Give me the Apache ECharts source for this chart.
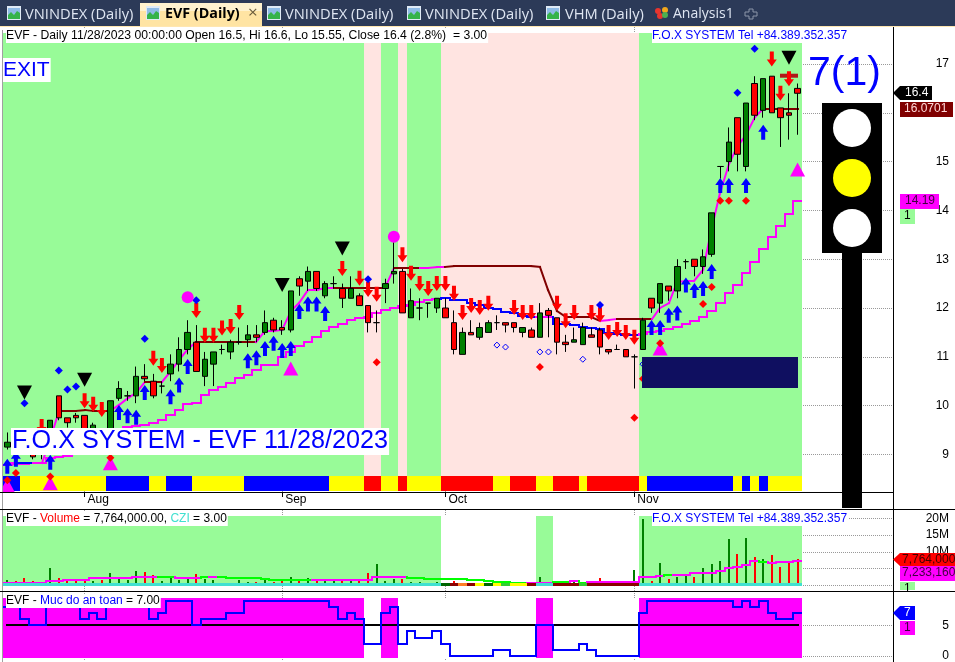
<!DOCTYPE html>
<html>
<head>
<meta charset="utf-8">
<title>EVF (Daily)</title>
<style>
html, body { margin: 0; padding: 0; background: #fff; }
#main { width: 955px; height: 662px; }
</style>
<script src="https://cdn.jsdelivr.net/npm/echarts@6/dist/echarts.min.js"></script>
</head>
<body>
<div id="main"></div>
<script>
// OHLC, one entry per trading day
const opens = [9.15,9.3,9.35,9.2,9,9.2,10.2,9.75,9.8,9.8,9.35,9.45,9.3,10.15,10.2,10.2,10.6,10.5,10.4,10.65,10.85,11.15,11.3,10.6,10.85,11.15,11.1,11.3,11.35,11.45,11.5,11.75,11.6,11.55,12.6,12.55,12.75,12.25,12.5,12.4,12.2,12.25,12.05,11.7,12.4,12.7,12.75,11.8,12,12.1,12,12,11.7,11.05,11.5,11.4,11.5,11.7,11.7,11.7,11.5,11.55,11.4,11.95,11.8,11.3,11.3,11.25,11.45,11.55,11.15,11.15,11.15,11,11.15,12.2,12.1,12.45,12.35,12.95,13,12.85,13.1,14.9,15,15.9,14.9,16.6,16.05,16.75,16.1,16,16.5];
const closes = [9.25,9.2,9.2,8.95,9.2,9.7,9.75,9.65,9.75,9.35,9.6,9.3,10.1,10.35,10.2,10.6,10.55,10.2,10.4,10.85,11.15,11.5,10.7,10.95,11.1,11.15,11.3,11.3,11.45,11.4,11.7,11.55,11.55,12.35,12.45,12.75,12.4,12.5,12.5,12.2,12.4,12.05,11.7,11.7,12.5,12.75,11.9,12.15,12,12.1,12.2,11.8,11.15,11.5,11.45,11.6,11.7,11.7,11.65,11.6,11.6,11.4,11.9,11.85,11.3,11.25,11.35,11.6,11.4,11.2,11.1,11.15,11,11,11.75,12,12.5,12.35,12.85,12.95,12.85,13.05,13.95,14.9,15.4,15.15,16.2,15.95,16.7,16,15.9,15.95,16.4];
const lows = [9.1,9.1,9.05,8.9,8.9,9.15,9.7,9.55,9.65,9.3,9.3,9.2,9.25,10.1,10.1,10.05,10.5,10.15,10.25,10.5,10.7,11.05,10.7,10.4,10.4,11.05,10.95,11.25,11.2,11.3,11.45,11.5,11.45,11.5,12.25,12.35,12.35,12.2,12.4,12,12.2,12.05,11.5,11.5,12.1,12.5,11.9,11.8,11.75,11.8,11.9,11.8,11.05,11.05,11.45,11.35,11.5,11.55,11.5,11.5,11.4,11.4,11.4,11.4,11.05,11.1,11.3,11.25,11.4,11.05,11.05,11.15,11,10.35,11.15,11.9,11.9,12.15,12.2,12.8,12.65,12.7,13.05,14.65,14.8,14.8,14.8,15.85,15.9,16,15.3,15.45,15.55];
const highs = [9.45,9.4,9.5,9.3,9.35,9.7,10.2,9.75,9.85,9.8,9.65,9.5,10.1,10.5,10.3,10.8,10.85,10.65,10.5,11.05,11.4,11.75,11.65,11.1,11.1,11.25,11.35,11.6,11.65,11.65,11.95,11.8,11.75,12.35,12.65,12.85,12.75,12.55,12.65,12.5,12.65,12.3,12.05,11.95,12.6,13.35,12.8,12.4,12.2,12.1,12.2,12.2,11.95,11.6,11.75,11.7,11.75,11.85,11.7,11.7,11.6,11.6,12.1,12,11.8,11.45,11.6,11.7,11.6,11.6,11.15,11.25,11.15,11.05,11.8,12.2,12.5,12.45,13,13,13,13.2,13.95,14.9,15.7,15.9,16.2,16.75,16.7,16.75,16.1,16.4,16.6];

// trailing lines on the price pane
const upperLine = [8.82,8.82,8.82,8.82,8.82,9.3,9.89,9.89,9.89,9.9,9.89,9.89,9.89,10.01,10.15,10.25,10.49,10.49,10.49,10.7,10.94,11.17,11.31,11.31,11.31,11.31,11.31,11.31,11.31,11.31,11.52,11.53,11.55,11.93,12.1,12.37,12.37,12.4,12.4,12.4,12.4,12.4,12.4,12.4,12.4,12.83,12.83,12.83,12.83,12.83,12.84,12.85,12.86,12.86,12.86,12.86,12.86,12.86,12.86,12.86,12.86,12.86,12.85,12.37,11.93,11.82,11.82,11.82,11.82,11.74,11.75,11.77,11.77,11.77,11.78,11.78,11.99,12.1,12.54,12.55,12.56,12.77,13.67,14.35,14.96,15.3,15.54,15.92,16.07,16.07,16.07,16.07,16.07];
const upperColors = 'mbbmmmrrrrrrmmmmrrmmmmrrrrrrrmmmmmmmmmrrrrrrmrrrmmmrrrrrrrrrrrrrrrrrrmmrrrrmmmmmmmmmmmmmrrrrr';
const lowerLine = [8.78,8.8,8.8,8.82,8.83,8.92,8.94,8.97,9.09,9.16,9.26,9.36,9.43,9.5,9.56,9.58,9.6,9.65,9.71,9.81,9.91,10.03,10.05,10.22,10.32,10.39,10.46,10.56,10.63,10.73,10.83,10.83,11,11.1,11.22,11.31,11.4,11.52,11.62,11.68,11.75,11.79,11.82,11.89,11.96,12.01,12.04,12.06,12.12,12.16,12.18,12.21,12.16,12.16,12.1,12.06,12.01,11.97,11.92,11.89,11.84,11.82,11.82,11.82,11.68,11.68,11.65,11.62,11.6,11.56,11.49,11.47,11.45,11.45,11.46,11.5,11.53,11.56,11.62,11.67,11.74,11.82,11.93,12.1,12.3,12.47,12.72,12.95,13.21,13.46,13.68,13.93,14.19];
const lowerColors = 'mmmmmmmmmmmmmmmmmmmmmmmmmmmmmmmmmmmmmmmmmmmmmmmmmmmbbbbbbbbbbbmmbbbbbbbbbbmmmmmmmmmmmmmmmmmmm';

// per day background and ribbon states
const priceBand = 'gggggggggggggggggggggggggggggggggggggggggg' + 'pp' + 'gg' + 'p' + 'gggg' + 'ppppppppppppppppppppppp' + 'ggggggggggggggggggg';
const ribbon = 'bb' + 'yyyyyyyyyy' + 'bbbbb' + 'yy' + 'bbb' + 'yyyyyy' + 'bbbbbbbbbb' + 'yyyy' + 'rr' + 'yy' + 'r' + 'yyyy' + 'rrrrrr' + 'yy' + 'rrr' + 'yy' + 'rrr' + 'y' + 'rrrrrr' + 'y' + 'bbbbbbbbbb' + 'ybyb' + 'yyyy';
const volumeBand = 'ggggggggggggggggggggggggggggggggggggggggggggggggggg' + 'wwwwwwwwwww' + 'gg' + 'wwwwwwwwww' + 'ggggggggggggggggggg';
const safetyBand = 'mmmmmmmmmmmmmmmmmmmmmmmmmmmmmmmmmmmmmmmmmm' + 'ww' + 'mm' + 'wwwwwwwwwwwwwwww' + 'mm' + 'wwwwwwwwww' + 'mmmmmmmmmmmmmmmmmmm';
const cziStrip = 'ttttttttttttttttttttttttttttttttttttttttttttttttttt' + 'dkokydylyyk' + 'tt' + 'kkk' + 'l' + 'kkkkkk' + 'ttttttttttttttttttt';

// signals as [day, price]
const redArrows = [[4,9.57],[9,10.1],[10,10.03],[11,9.92],[17,10.97],[18,10.82],[22,11.95],[23,11.44],[24,11.44],[25,11.59],[26,11.62],[27,11.91],[39,12.81],[41,12.61],[42,12.38],[43,12.28],[46,13.09],[47,12.71],[48,12.5],[49,12.4],[50,12.5],[51,12.5],[52,12.3],[53,11.91],[54,12.05],[55,12.01],[56,12.1],[59,12.01],[60,11.91],[61,11.91],[64,12.1],[65,11.74],[66,11.91],[68,11.91],[69,11.86],[70,11.5],[71,11.56],[72,11.5],[73,11.4],[89,17.1],[90,16.4],[91,16.7]];
const blueArrows = [[0,8.76],[1,8.9],[5,8.84],[13,9.86],[14,9.79],[15,9.76],[16,10.27],[19,10.18],[20,10.42],[21,10.8],[28,10.92],[29,10.98],[30,11.17],[31,11.28],[32,11.13],[33,11.17],[34,11.93],[35,12.08],[36,12.08],[37,11.89],[75,11.6],[76,11.6],[77,11.85],[78,11.9],[79,12.47],[80,12.36],[81,12.4],[82,12.75],[83,14.51],[84,14.51],[86,14.51],[88,15.6]];
const blueDots = [[2,10.05],[6,10.72],[7,10.33],[8,10.39],[16,11.37],[22,12.16],[42,12.59],[69,12.06],[85,16.41],[87,17.31]];
const redDots = [[0,8.47],[1,8.62],[5,8.55],[12,8.93],[43,10.89],[62,10.79],[73,9.75],[74,10.55],[76,11.28],[81,12.08],[82,12.43],[83,14.2],[84,14.2],[86,14.2]];
const hollowDots = [[57,11.24],[58,11.2],[62,11.1],[63,11.1],[67,10.95],[74,10.85]];
const blackTriangles = [[2,10.27],[9,10.53],[32,12.47],[39,13.22],[91,17.13]];
const pinkTriangles = [[0,8.37],[5,8.41],[12,8.82],[33,10.76],[76,11.17],[92,14.84]];
const pinkCircles = [[21,12.22],[45,13.46]];
const resistanceMarks = [[91,16.76]];
const navyZone = [[73.89,92.05,11,10.36]];

// volume pane, millions of shares
const volumes = [1.6,1.3,2.1,1.3,0.9,5.1,2.1,1.8,1.8,1.4,1.3,1.6,3.6,2.6,1.6,4.3,3.9,3.1,1.3,2.6,1.6,2.1,3.3,1.9,1.6,0.6,0.8,1.6,0.9,0.9,1.9,0.9,1.6,2.5,1.6,2.1,1.5,1.9,1.9,1.9,1.5,1.5,3.6,6.3,1.3,1.9,1.9,0.9,0.9,0.6,0.9,0.3,1.3,0.5,0.6,0.3,0.4,0.8,0.8,0.9,0.6,0.5,2.5,0.9,1.3,0.7,0.9,0.6,0.9,2.2,0.9,1,1.3,4.6,19.8,1.2,6.6,1.9,2.5,3.1,2.5,5.1,6.4,7.3,13.8,9.4,14.1,8.5,7.9,9.1,5.5,6.9,7.764];
const volumeAvg = [0.8,0.8,0.8,0.8,0.8,1.4,1.4,1.7,1.7,1.7,2.1,2.1,2.1,2.1,2.1,2.6,2.6,2.6,2.6,2.6,2.3,2.3,2.3,2.6,2.6,2.6,2.3,2.3,2.3,2.3,2,1.7,1.7,1.7,1.7,1.7,1.7,1.7,1.7,1.7,1.7,1.7,1.7,2.4,2.4,2.4,2.4,2.3,2.3,1.9,1.9,1.9,1.9,1.9,1.6,1.6,1.3,1.1,1.1,0.8,0.8,0.8,0.8,0.8,1.1,1.1,1.2,0.8,1.1,1.1,1.1,1.1,1.1,1.1,2.4,2.6,2.9,3.1,3.1,3.1,3.6,3.6,3.8,4.4,5.1,5.6,6.1,7.4,6.9,6.8,7,7.1,7.233];
const volumeAvgColors = 'mmmmmmmmmmmmmmmmmm' + 'gg' + 'mmm' + 'g' + 'm' + 'ggggggggggg' + 'mmmmmmmmmmm' + 'gggggggggggggg' + 'mmm' + 'gg' + 'm' + 'g' + 'mmmmmmmmm' + 'g' + 'mmmmmmmmmm' + 'g' + 'mmmm';

// safety level pane
const safetyLevel = [8,8,6,5,5,8,8,8,8,6,7,6,8,8,8,8,8,6,7,9,9,9,5,6,6,6,7,7,9,9,9,9,9,9,9,9,9,9,8,6,7,6,2,2,7,8,2,4,3,3,4,2,0,0,0,0,0,1,1,0,0,0,5,5,1,1,1,2,1,0,0,0,0,0,7,9,9,9,9,9,9,9,9,9,9,8,9,8,9,7,6,6,7];
const safetyThreshold = [5, 5];
const safetyThresholdDays = [0, 92];

const monthTicks = [9, 32, 51, 73];
const monthNames = ['Aug', 'Sep', 'Oct', 'Nov'];
const priceTicks = [9, 10, 11, 12, 13, 14, 15, 16, 17];
const volumeTicks = [0, 5, 10, 15, 20];
const safetyTicks = [0, 5];

const FONT = '"Liberation Sans", Arial, sans-serif';
const UI_FONT = '"Open Sans", "Noto Sans", sans-serif';
const GREEN = '#008000', RED = '#ff0000', BLUE = '#0000ff', MAGENTA = '#ff00ff', MAROON = '#800000';
const BAND_GREEN = '#98fb98', BAND_PINK = '#ffe4e1', LIME = '#00ff00', YELLOW = '#ffff00', TURQUOISE = '#40e0d0';

const ARROW_UP = 'path://M5 0L10 7L7 7L7 15L3 15L3 7L0 7Z';
const ARROW_DOWN = 'path://M3 0L7 0L7 8L10 8L5 15L0 8L3 8Z';
const X_MIN = -0.5, X_MAX = 103.11;

// one rectangle per day between two values of the pane, colour from a state string
function bandSeries(codes, palette, yTop, yBottom, pane, z) {
    let data = codes.split('').map(function(code, i) {
        return [i, yTop, yBottom, code.charCodeAt(0)];
    });
    return {
        type: 'custom',
        xAxisIndex: pane,
        yAxisIndex: pane,
        z: z,
        silent: true,
        encode: { x: 0, y: [1, 2] },
        data: data,
        renderItem: function(params, api) {
            let i = api.value(0);
            let a = api.coord([i - 0.5, api.value(1)]);
            let b = api.coord([i + 0.5, api.value(2)]);
            let x = Math.round(a[0]), y = Math.round(a[1]);
            return {
                type: 'rect',
                shape: { x: x, y: y, width: Math.round(b[0]) - x, height: Math.round(b[1]) - y },
                style: { fill: palette[String.fromCharCode(api.value(3))] }
            };
        }
    };
}

// flat 2px level across each day's width with a riser from the day before
function stairSeries(values, codes, palette, pane, z) {
    let data = values.map(function(v, i) {
        return [i, v, i > 0 ? values[i - 1] : v, codes.charCodeAt(i)];
    });
    return {
        type: 'custom',
        xAxisIndex: pane,
        yAxisIndex: pane,
        z: z,
        silent: true,
        encode: { x: 0, y: 1 },
        data: data,
        renderItem: function(params, api) {
            let i = api.value(0);
            let a = api.coord([i - 0.5, api.value(1)]);
            let b = api.coord([i + 0.5, api.value(1)]);
            let p = api.coord([i - 0.5, api.value(2)]);
            let x0 = Math.round(a[0]), x1 = Math.round(b[0]);
            let y = Math.round(a[1]), yp = Math.round(p[1]);
            let style = { fill: palette[String.fromCharCode(api.value(3))] };
            return {
                type: 'group',
                children: [
                    { type: 'rect', shape: { x: x0, y: y - 1, width: x1 - x0, height: 2 }, style: style },
                    { type: 'rect', shape: { x: x0 - 1, y: Math.min(y, yp) - 1, width: 2, height: Math.abs(y - yp) + 2 }, style: style }
                ]
            };
        }
    };
}

// 2px segments between consecutive points, ends snapped to whole pixels
function segmentSeries(days, values, codes, palette, pane, z) {
    let data = [];
    for (let k = 0; k + 1 < values.length; k++) {
        data.push([days[k], values[k], days[k + 1], values[k + 1], codes.charCodeAt(k)]);
    }
    return {
        type: 'custom',
        xAxisIndex: pane,
        yAxisIndex: pane,
        z: z,
        silent: true,
        encode: { x: [0, 2], y: [1, 3] },
        data: data,
        renderItem: function(params, api) {
            let a = api.coord([api.value(0), api.value(1)]);
            let b = api.coord([api.value(2), api.value(3)]);
            return {
                type: 'line',
                shape: { x1: Math.round(a[0]), y1: Math.round(a[1]), x2: Math.round(b[0]), y2: Math.round(b[1]) },
                style: { stroke: palette[String.fromCharCode(api.value(4))], lineWidth: 2, lineCap: 'square' }
            };
        }
    };
}

function markerSeries(data, symbol, size, color, z, extra) {
    return Object.assign({
        type: 'scatter',
        xAxisIndex: 0,
        yAxisIndex: 0,
        data: data,
        symbol: symbol,
        symbolSize: size,
        silent: true,
        z: z,
        itemStyle: { color: color, opacity: 1 }
    }, extra || {});
}

function rect(x, y, w, h, fill, z) {
    return { type: 'rect', shape: { x: x, y: y, width: w, height: h }, style: { fill: fill }, z: z || 50, silent: true };
}

function poly(points, fill) {
    return { type: 'polygon', shape: { points: points }, style: { fill: fill }, z: 50, silent: true };
}

function dot(cx, cy, r, fill) {
    return { type: 'circle', shape: { cx: cx, cy: cy, r: r }, style: { fill: fill }, z: 51, silent: true };
}

function label(text, x, y, color, font, bg, pad) {
    return {
        type: 'text',
        z: 52,
        silent: true,
        style: { text: text, x: x, y: y, fill: color, font: font || ('12px ' + FONT), backgroundColor: bg, padding: pad }
    };
}

function tabIcon(x) {
    return [
        rect(x, 6, 14, 14, '#dfeaf6', 42),
        rect(x + 1, 8, 12, 11, '#8fbbe6', 43),
        Object.assign(poly([[x + 1, 19], [x + 1, 15], [x + 4, 12], [x + 7, 15], [x + 10, 11], [x + 13, 13], [x + 13, 19]], '#35b34a'), { z: 44 })
    ];
}

function tabText(text, x, size) {
    return label(text, x, 7, '#dfe6f2', (size || 14.7) + 'px ' + UI_FONT);
}

const xAxisBase = {
    type: 'value',
    min: X_MIN,
    max: X_MAX,
    axisLine: { show: false },
    axisTick: { show: false, customValues: monthTicks },
    axisLabel: { show: false, customValues: monthTicks },
    splitLine: { show: true, lineStyle: { color: '#999999', type: 'dotted', width: 1 } }
};

function yAxisFor(pane, min, max, ticks, formatter) {
    return {
        type: 'value',
        gridIndex: pane,
        position: 'right',
        min: min,
        max: max,
        axisLine: { show: false },
        axisTick: { show: true, length: 4, customValues: ticks, lineStyle: { color: '#000' } },
        axisLabel: { show: true, customValues: ticks, align: 'right', margin: 56, color: '#000', fontFamily: FONT, fontSize: 12, formatter: formatter },
        splitLine: { show: true, lineStyle: { color: '#999999', type: 'dotted', width: 1 } }
    };
}

const allDays = opens.map(function(o, i) { return i; });

const candleData = opens.map(function(o, i) {
    return [i, o, closes[i], lows[i], highs[i]];
});

const volumeData = volumes.map(function(v, i) {
    return [i, v, closes[i] < opens[i] ? 1 : 0];
});

const series = [
    bandSeries(priceBand, { g: BAND_GREEN, p: BAND_PINK }, 17.635, 8.557, 0, 1),
    bandSeries(ribbon, { b: BLUE, y: YELLOW, r: RED }, 8.557, 8.25, 0, 1),
    stairSeries(lowerLine, lowerColors, { m: MAGENTA, b: BLUE }, 0, 3),
    segmentSeries(allDays, upperLine, upperColors, { m: MAGENTA, b: BLUE, r: MAROON }, 0, 3),
    {
        type: 'candlestick',
        xAxisIndex: 0,
        yAxisIndex: 0,
        data: candleData,
        encode: { x: 0, y: [1, 2, 3, 4] },
        barWidth: 6,
        silent: true,
        z: 4,
        itemStyle: {
            color: GREEN,
            color0: RED,
            borderColor: '#000',
            borderColor0: '#000',
            borderColorDoji: '#000',
            borderWidth: 1
        }
    },
    markerSeries(resistanceMarks, 'rect', [18, 4], '#b01818', 5),
    markerSeries(redArrows, ARROW_DOWN, [10, 15], RED, 6),
    markerSeries(blueArrows, ARROW_UP, [10, 15], BLUE, 6),
    markerSeries(blackTriangles, 'triangle', [15, 14], '#000', 6, { symbolRotate: 180 }),
    markerSeries(pinkTriangles, 'triangle', [15, 14], MAGENTA, 6),
    markerSeries(blueDots, 'diamond', [8, 8], BLUE, 7),
    markerSeries(redDots, 'diamond', [8, 8], RED, 7),
    markerSeries(hollowDots, 'diamond', [6, 6], '#fff', 7, { itemStyle: { color: 'rgba(0,0,0,0)', borderColor: BLUE, borderWidth: 1, opacity: 1 } }),
    markerSeries(pinkCircles, 'circle', [12, 12], MAGENTA, 7),
    {
        type: 'custom',
        xAxisIndex: 0,
        yAxisIndex: 0,
        z: 8,
        silent: true,
        encode: { x: [0, 1], y: [2, 3] },
        data: navyZone,
        renderItem: function(params, api) {
            let a = api.coord([api.value(0), api.value(2)]);
            let b = api.coord([api.value(1), api.value(3)]);
            return {
                type: 'rect',
                shape: { x: Math.round(a[0]), y: Math.round(a[1]), width: Math.round(b[0] - a[0]), height: Math.round(b[1] - a[1]) },
                style: { fill: '#0f0f60' }
            };
        }
    },

    bandSeries(volumeBand, { g: BAND_GREEN, w: '#ffffff' }, 20.7, 0, 1, 1),
    {
        type: 'custom',
        xAxisIndex: 1,
        yAxisIndex: 1,
        z: 3,
        silent: true,
        encode: { x: 0, y: 1 },
        data: volumeData,
        renderItem: function(params, api) {
            let top = api.coord([api.value(0), api.value(1)]);
            let base = api.coord([api.value(0), 0]);
            let y = Math.round(top[1]);
            return {
                type: 'rect',
                shape: { x: Math.round(top[0]) - 1, y: y, width: 2, height: Math.round(base[1]) - y },
                style: { fill: api.value(2) ? RED : GREEN }
            };
        }
    },
    stairSeries(volumeAvg, volumeAvgColors, { m: MAGENTA, g: LIME }, 1, 4),
    bandSeries(cziStrip, { t: TURQUOISE, d: '#006400', k: '#8b0000', o: '#ff7f27', y: YELLOW, l: '#32cd32' }, 0.6, -0.1, 1, 5),

    bandSeries(safetyBand, { m: MAGENTA, w: '#ffffff' }, 9.46, -0.27, 2, 1),
    segmentSeries(safetyThresholdDays, safetyThreshold, 'k', { k: '#000000' }, 2, 3),
    stairSeries(safetyLevel, 'b'.repeat(safetyLevel.length), { b: BLUE }, 2, 4)
];

let graphics = [
    // tab strip
    rect(0, 0, 955, 26, '#2c3a58', 40),
    rect(0, 26, 955, 1, '#ffe6b0', 40),
    rect(0, 27, 2, 635, '#ffffff', 40),
    rect(2, 30, 1, 632, '#a0a0a0', 40),
    rect(140, 3, 122, 23, '#ffe4a3', 41),
    rect(140, 3, 122, 8, '#fff2cf', 41),
    tabText('VNINDEX (Daily)', 25),
    label('EVF (Daily)', 165, 7, '#000', 'bold 14.3px ' + UI_FONT),
    label('\u00d7', 248, 5, '#6b5c3c', '17px ' + UI_FONT),
    tabText('VNINDEX (Daily)', 285),
    tabText('VNINDEX (Daily)', 425),
    tabText('VHM (Daily)', 565),
    tabText('Analysis1', 673, 14),
    dot(658, 11, 3, '#e8352e'),
    dot(665, 10, 3, '#f2a71b'),
    dot(660, 16, 3, '#e8352e'),
    dot(665, 15, 3, '#4cb050'),
    Object.assign(poly([[749, 9], [753, 9], [753, 12], [757, 12], [757, 16], [753, 16], [753, 19], [749, 19], [749, 16], [745, 16], [745, 12], [749, 12]], 'rgba(0,0,0,0)'), {
        style: { fill: 'rgba(0,0,0,0)', stroke: '#8b95a8', lineWidth: 1 }
    }),

    // pane frames
    rect(0, 492, 893, 1, '#000', 45),
    rect(0, 509, 955, 1, '#000', 45),
    rect(0, 591, 955, 1, '#000', 45),
    rect(893, 27, 1, 635, '#000', 45),

    // traffic light
    rect(842, 253, 20, 255, '#000'),
    rect(822, 103, 60, 150, '#000'),
    dot(852, 128, 19, '#fff'),
    dot(852, 178, 19, YELLOW),
    dot(852, 228, 19, '#fff'),
    label('7(1)', 808, 53, BLUE, '41px ' + FONT),

    // pane titles
    label('EVF - Daily 11/28/2023 00:00:00 Open 16.5, Hi 16.6, Lo 15.55, Close 16.4 (2.8%)  = 3.00', 6, 29, '#000', '12.2px ' + FONT, '#fff', [1, 1, 1, 0]),
    label('EXIT', 3, 58, BLUE, '21px ' + FONT, '#fff', [2, 1, 1, 0]),
    label('F.O.X SYSTEM - EVF 11/28/2023', 11, 428, BLUE, '25.2px ' + FONT, '#fff', [1, 1, 1, 1]),
    label('F.O.X SYSTEM Tel +84.389.352.357', 652, 29, BLUE, '12px ' + FONT, '#fff', [1, 1, 1, 0]),
    label('F.O.X SYSTEM Tel +84.389.352.357', 652, 512, BLUE, '12px ' + FONT, '#fff', [1, 1, 1, 0]),
    {
        type: 'text',
        z: 52,
        silent: true,
        style: {
            x: 6,
            y: 512,
            text: '{k|EVF - }{r|Volume}{k| = 7,764,000.00, }{t|CZI}{k| = 3.00}',
            backgroundColor: '#fff',
            padding: [1, 1, 1, 0],
            rich: {
                k: { fill: '#000', font: '12px ' + FONT },
                r: { fill: RED, font: '12px ' + FONT },
                t: { fill: TURQUOISE, font: '12px ' + FONT }
            }
        }
    },
    {
        type: 'text',
        z: 52,
        silent: true,
        style: {
            x: 6,
            y: 594,
            text: '{k|EVF - }{b|Muc do an toan}{k| = 7.00}',
            backgroundColor: '#fff',
            padding: [1, 1, 1, 0],
            rich: {
                k: { fill: '#000', font: '12px ' + FONT },
                b: { fill: BLUE, font: '12px ' + FONT }
            }
        }
    },

    // last value tags, price pane
    poly([[893, 93], [900, 86], [932, 86], [932, 100], [900, 100]], '#000'),
    label('16.4', 905, 87, '#fff'),
    rect(900, 102, 53, 15, MAROON),
    label('16.0701', 904, 103, '#ffd9d9'),
    rect(900, 194, 39, 15, MAGENTA),
    label('14.19', 905, 195, '#400040'),
    rect(900, 209, 15, 15, BAND_GREEN),
    label('1', 904, 210, '#000'),

    // last value tags, volume pane
    poly([[893, 559.5], [900, 553], [955, 553], [955, 566], [900, 566]], RED),
    label('7,764,000', 902, 554, '#400000'),
    rect(900, 566, 55, 15, MAGENTA),
    label('7,233,160', 902, 567, '#400040'),
    rect(900, 582, 15, 8, BAND_GREEN),
    label('1', 904, 583, '#000'),

    // last value tags, safety pane
    poly([[893, 613], [900, 606], [915, 606], [915, 620], [900, 620]], BLUE),
    label('7', 904, 607, '#fff'),
    rect(900, 621, 15, 14, MAGENTA),
    label('1', 904, 622, '#400040')
];
tabIcon(7).concat(tabIcon(146), tabIcon(267), tabIcon(407), tabIcon(546)).forEach(function(el) {
    graphics.push(el);
});

let chart = echarts.init(document.getElementById('main'), null, { renderer: 'canvas' });
chart.setOption({
    animation: false,
    backgroundColor: '#ffffff',
    grid: [
        { left: 3, top: 27, width: 890, height: 465 },
        { left: 3, top: 510, width: 890, height: 81 },
        { left: 3, top: 591, width: 890, height: 71 }
    ],
    xAxis: [
        Object.assign({}, xAxisBase, {
            gridIndex: 0,
            axisTick: { show: true, length: 5, customValues: monthTicks, lineStyle: { color: '#000' } },
            axisLabel: {
                show: true,
                customValues: monthTicks,
                align: 'left',
                margin: 2,
                padding: [0, 0, 0, 3],
                color: '#000',
                fontFamily: FONT,
                fontSize: 12,
                formatter: function(v) { return monthNames[monthTicks.indexOf(v)]; }
            }
        }),
        Object.assign({}, xAxisBase, { gridIndex: 1 }),
        Object.assign({}, xAxisBase, { gridIndex: 2 })
    ],
    yAxis: [
        yAxisFor(0, 8.23, 17.758, priceTicks),
        yAxisFor(1, -1.7, 22.48, volumeTicks, function(v) { return v === 0 ? '' : v + 'M'; }),
        yAxisFor(2, -0.75, 10.57, safetyTicks)
    ],
    series: series,
    graphic: { elements: graphics }
});

window.addEventListener('resize', function() {
    chart.resize();
});
</script>
</body>
</html>
